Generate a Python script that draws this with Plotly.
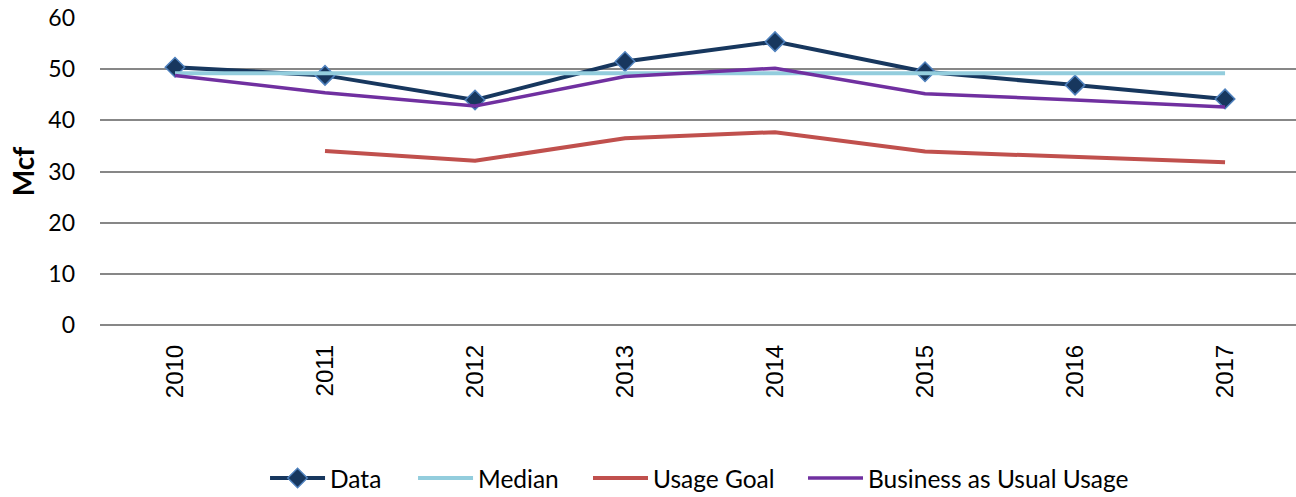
import plotly.graph_objects as go

years = ["2010", "2011", "2012", "2013", "2014", "2015", "2016", "2017"]
data_vals = [50.4, 48.8, 44.0, 51.5, 55.4, 49.5, 46.9, 44.2]
median_vals = [49.2, 49.2, 49.2, 49.2, 49.2, 49.2, 49.2, 49.2]
goal_vals = [None, 34.0, 32.1, 36.5, 37.7, 33.9, 32.9, 31.8]
bau_vals = [48.8, 45.4, 42.8, 48.6, 50.2, 45.2, 44.0, 42.6]

fig = go.Figure()
fig.add_trace(go.Scatter(
    x=years, y=data_vals, name="Data", mode="lines+markers",
    line=dict(color="#17375E", width=4),
    marker=dict(symbol="diamond", size=15, color="#17375E",
                line=dict(color="#4F81BD", width=1.5)),
    legend="legend", showlegend=True,
))
fig.add_trace(go.Scatter(
    x=years, y=median_vals, name="Median", mode="lines",
    line=dict(color="#93CDDD", width=4),
    legend="legend2", showlegend=True,
))
fig.add_trace(go.Scatter(
    x=years, y=goal_vals, name="Usage Goal", mode="lines",
    line=dict(color="#C0504D", width=4),
    legend="legend3", showlegend=True,
))
fig.add_trace(go.Scatter(
    x=years, y=bau_vals, name="Business as Usual Usage", mode="lines",
    line=dict(color="#7030A0", width=3.5),
    legend="legend4", showlegend=True,
))

W, H = 1296, 497
leg_common = dict(orientation="h", xref="container", yref="container",
                  y=0.0382, yanchor="middle", xanchor="left",
                  font=dict(family="Lato", size=24.5, color="#000000"),
                  itemwidth=55, bgcolor="rgba(0,0,0,0)")
fig.update_layout(
    width=W, height=H, showlegend=True,
    margin=dict(l=100, r=0, t=18, b=172),
    paper_bgcolor="white", plot_bgcolor="white",
    font=dict(family="Lato", size=24, color="#000000"),
    legend=dict(leg_common, x=0.2045),
    legend2=dict(leg_common, x=0.3187),
    legend3=dict(leg_common, x=0.4537),
    legend4=dict(leg_common, x=0.6196),
)
fig.update_xaxes(
    type="category", range=[-0.5, 7.473], automargin=False,
    showgrid=False, zeroline=False, showline=False,
    tickangle=-90, ticks="", ticklabelstandoff=14,
    tickfont=dict(family="Liberation Sans", size=24, color="#000000"),
)
fig.update_yaxes(
    range=[0, 60.02], dtick=10, tick0=0, automargin=False,
    showgrid=True, gridcolor="#878787", gridwidth=1.5,
    zeroline=True, zerolinecolor="#878787", zerolinewidth=1.5,
    showline=False, ticks="", ticklabelstandoff=24, ticklabeloverflow="allow",
    tickfont=dict(family="Lato", size=23, color="#000000"),
    title=dict(text="<b>Mcf</b>", font=dict(family="Lato", size=28, color="#000000"), standoff=5),
)

fig.write_html("out.html", config={"displayModeBar": False},
               post_script="document.body.style.margin='0';document.body.style.overflow='hidden';")
